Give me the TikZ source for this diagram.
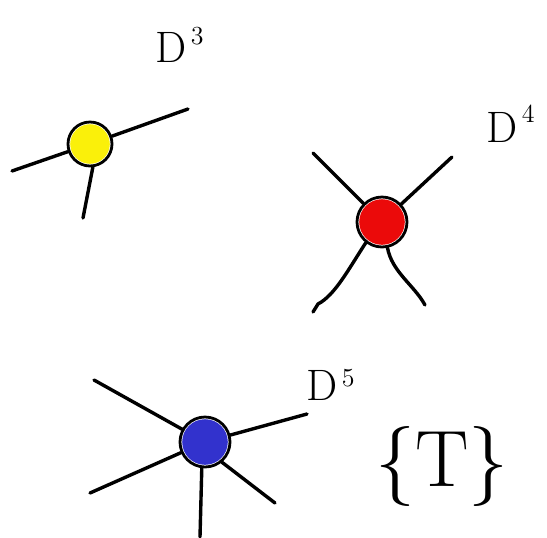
\documentclass[tikz,border=0pt]{standalone}
\definecolor{ballyellow}{RGB}{250,240,10}
\definecolor{ballred}{RGB}{235,10,10}
\definecolor{ballblue}{RGB}{50,50,205}
\begin{document}
\begin{tikzpicture}[x=0.5pt,y=-0.5pt,
  stroke/.style={line width=1.7pt, line cap=round, line join=round},
  ball/.style={circle, draw, line width=1.4pt, fill=white, inner sep=0pt, minimum size=#1},
  lbl/.style={font=\fontsize{22}{24}\selectfont, inner sep=0pt, anchor=base west}]
\useasboundingbox (0,0) rectangle (547,537);
% yellow D^3
\node[ball=22pt] (y) at (90,144) {};
\fill[ballyellow] (y.center) circle[radius=9.9pt];
\coordinate (y1) at (12,171);
\coordinate (y2) at (188,109);
\coordinate (y3) at (83,218);
\draw[stroke] (y1) -- (y);
\draw[stroke] (y) -- (y2);
\draw[stroke] (y.-83) -- (y3);
\node[lbl] (d3) at (155,62) {D\raisebox{9pt}{\fontsize{13}{14}\selectfont\,3}};
% red D^4
\node[ball=25pt] (r) at (382,222) {};
\fill[ballred] (r.center) circle[radius=11.4pt];
\coordinate (r1) at (313,153);
\coordinate (r2) at (452,157);
\coordinate (r3) at (313,312);
\coordinate (r4) at (425,305);
\draw[stroke] (r1) -- (r);
\draw[stroke] (r2) -- (r);
\draw[stroke] (r.-128) .. controls (348,270) and (335,295) .. (318,304) -- (r3);
\draw[stroke] (r.-78) .. controls (392,272) and (414,285) .. (r4);
\node[lbl] (d4) at (486,142) {D\raisebox{10pt}{\fontsize{13}{14}\selectfont\,4}};
% blue D^5
\node[ball=25pt] (b) at (205,442) {};
\fill[ballblue] (b.center) circle[radius=11.4pt];
\coordinate (b1) at (94,380);
\coordinate (b2) at (307,414);
\coordinate (b3) at (90,493);
\coordinate (b4) at (200,537);
\coordinate (b5) at (275,503);
\draw[stroke] (b1) -- (b);
\draw[stroke] (b) -- (b2);
\draw[stroke] (b3) -- (b);
\draw[stroke] (b.-97) -- (b4);
\draw[stroke] (b.-50) -- (b5);
\node[lbl] (d5) at (306,400) {D\raisebox{7pt}{\fontsize{13}{14}\selectfont\,5}};
% {T}
\node[font=\fontsize{40}{44}\selectfont, inner sep=0pt, anchor=base] (t) at (442,486) {\{T\}};
\end{tikzpicture}
\end{document}
